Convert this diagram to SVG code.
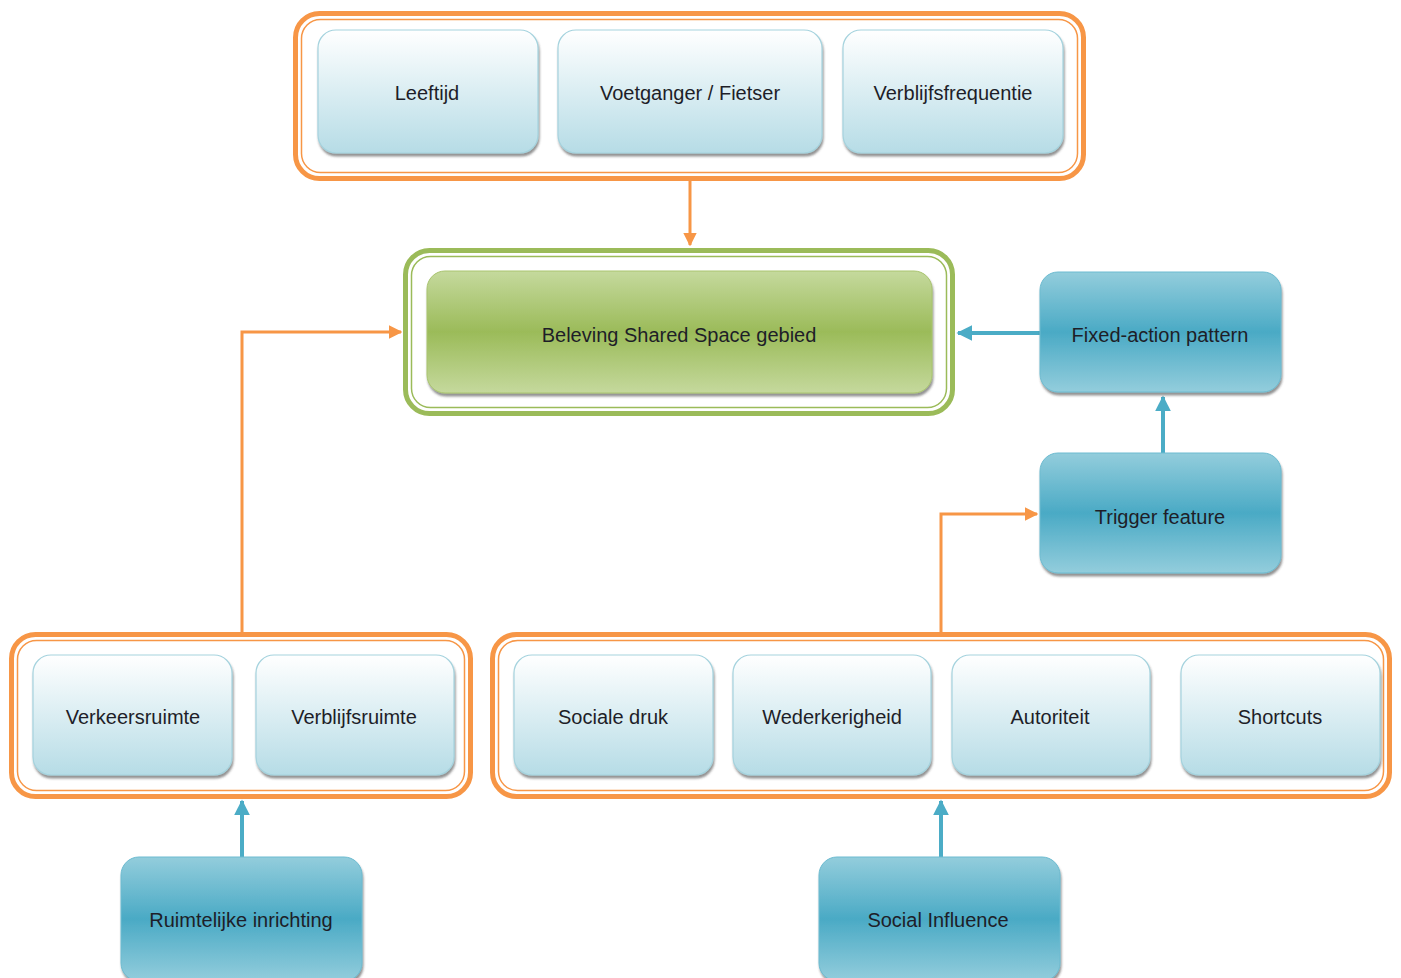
<svg xmlns="http://www.w3.org/2000/svg" width="1401" height="978" viewBox="0 0 1401 978">
<defs>
<linearGradient id="gLight" x1="0" y1="0" x2="0" y2="1">
<stop offset="0" stop-color="#ffffff"/>
<stop offset="1" stop-color="#b6dce6"/>
</linearGradient>
<linearGradient id="gGreen" x1="0" y1="0" x2="0" y2="1">
<stop offset="0" stop-color="#c5d99d"/>
<stop offset="0.5" stop-color="#9bbb59"/>
<stop offset="1" stop-color="#c5d99d"/>
</linearGradient>
<linearGradient id="gTeal" x1="0" y1="0" x2="0" y2="1">
<stop offset="0" stop-color="#93cddc"/>
<stop offset="0.5" stop-color="#4aaac5"/>
<stop offset="1" stop-color="#93cddc"/>
</linearGradient>
<filter id="sh" x="-5%" y="-5%" width="110%" height="120%">
<feDropShadow dx="1" dy="3" stdDeviation="1.2" flood-color="#3a3a3a" flood-opacity="0.55"/>
</filter>
<marker id="aO" viewBox="0 0 10 10" refX="9" refY="5" markerWidth="4.5" markerHeight="4.5" orient="auto" markerUnits="strokeWidth">
<path d="M0,0 L10,5 L0,10 z" fill="#f79646"/>
</marker>
<marker id="aB" viewBox="0 0 10 10" refX="9" refY="5" markerWidth="4" markerHeight="4" orient="auto" markerUnits="strokeWidth">
<path d="M0,0 L10,5 L0,10 z" fill="#4bacc6"/>
</marker>
</defs>
<style>
.cO{fill:#fff;stroke:#f79646;stroke-width:5}
.cOi{fill:none;stroke:#f79646;stroke-width:1.5}
.cG{fill:#fff;stroke:#9bbb59;stroke-width:5}
.cGi{fill:none;stroke:#9bbb59;stroke-width:1.5}
.lt{fill:url(#gLight);stroke:#a5d3de;stroke-width:1.2;filter:url(#sh)}
.gr{fill:url(#gGreen);stroke:#a9c46f;stroke-width:1;filter:url(#sh)}
.tl{fill:url(#gTeal);stroke:#6dbbd0;stroke-width:1;filter:url(#sh)}
text{font-family:"Liberation Sans",Arial,sans-serif;font-size:20px;fill:#1e1e28;text-anchor:middle}
.lo{fill:none;stroke:#f79646;stroke-width:3}
.lb{fill:none;stroke:#4bacc6;stroke-width:4}
</style>

<g id="connectors">
<path class="lo" d="M690,181 V245" marker-end="url(#aO)"/>
<path class="lo" d="M242,632 V332 H401" marker-end="url(#aO)"/>
<path class="lo" d="M941,632 V514 H1037" marker-end="url(#aO)"/>
<path class="lb" d="M1040,333 H958" marker-end="url(#aB)"/>
<path class="lb" d="M1163,453 V397" marker-end="url(#aB)"/>
<path class="lb" d="M242,857 V801" marker-end="url(#aB)"/>
<path class="lb" d="M941,857 V801" marker-end="url(#aB)"/>
</g>

<g id="group-top">
<rect class="cO" x="295.5" y="13.5" width="788" height="165" rx="24"/>
<rect class="cOi" x="301.5" y="19.5" width="776" height="153" rx="19"/>
</g>
<g id="node-leeftijd">
<rect class="lt" x="318" y="30" width="220" height="123" rx="18"/>
<text x="427" y="100">Leeftijd</text>
</g>
<g id="node-voetganger">
<rect class="lt" x="558" y="30" width="264" height="123" rx="18"/>
<text x="690" y="100">Voetganger / Fietser</text>
</g>
<g id="node-verblijfsfrequentie">
<rect class="lt" x="843" y="30" width="220" height="123" rx="18"/>
<text x="953" y="100">Verblijfsfrequentie</text>
</g>

<g id="node-beleving">
<rect class="cG" x="405.5" y="250.5" width="547" height="163" rx="24"/>
<rect class="cGi" x="411.5" y="256.5" width="535" height="151" rx="19"/>
<rect class="gr" x="427" y="271" width="505" height="122" rx="18"/>
<text x="679" y="342">Beleving Shared Space gebied</text>
</g>

<g id="node-fixed-action">
<rect class="tl" x="1040" y="272" width="241" height="120" rx="18"/>
<text x="1160" y="342">Fixed-action pattern</text>
</g>
<g id="node-trigger">
<rect class="tl" x="1040" y="453" width="241" height="120" rx="18"/>
<text x="1160" y="524">Trigger feature</text>
</g>

<g id="group-left">
<rect class="cO" x="11.5" y="634.5" width="459" height="162" rx="24"/>
<rect class="cOi" x="17.5" y="640.5" width="447" height="150" rx="19"/>
</g>
<g id="node-verkeersruimte">
<rect class="lt" x="33" y="655" width="199" height="120" rx="18"/>
<text x="133" y="724">Verkeersruimte</text>
</g>
<g id="node-verblijfsruimte">
<rect class="lt" x="256" y="655" width="198" height="120" rx="18"/>
<text x="354" y="724">Verblijfsruimte</text>
</g>

<g id="group-right">
<rect class="cO" x="492.5" y="634.5" width="897" height="162" rx="24"/>
<rect class="cOi" x="498.5" y="640.5" width="885" height="150" rx="19"/>
</g>
<g id="node-sociale-druk">
<rect class="lt" x="514" y="655" width="199" height="120" rx="18"/>
<text x="613" y="724">Sociale druk</text>
</g>
<g id="node-wederkerigheid">
<rect class="lt" x="733" y="655" width="198" height="120" rx="18"/>
<text x="832" y="724">Wederkerigheid</text>
</g>
<g id="node-autoriteit">
<rect class="lt" x="952" y="655" width="198" height="120" rx="18"/>
<text x="1050" y="724">Autoriteit</text>
</g>
<g id="node-shortcuts">
<rect class="lt" x="1181" y="655" width="199" height="120" rx="18"/>
<text x="1280" y="724">Shortcuts</text>
</g>

<g id="node-ruimtelijke">
<rect class="tl" x="121" y="857" width="241" height="124" rx="18"/>
<text x="241" y="927">Ruimtelijke inrichting</text>
</g>
<g id="node-social-influence">
<rect class="tl" x="819" y="857" width="241" height="124" rx="18"/>
<text x="938" y="927">Social Influence</text>
</g>
</svg>
